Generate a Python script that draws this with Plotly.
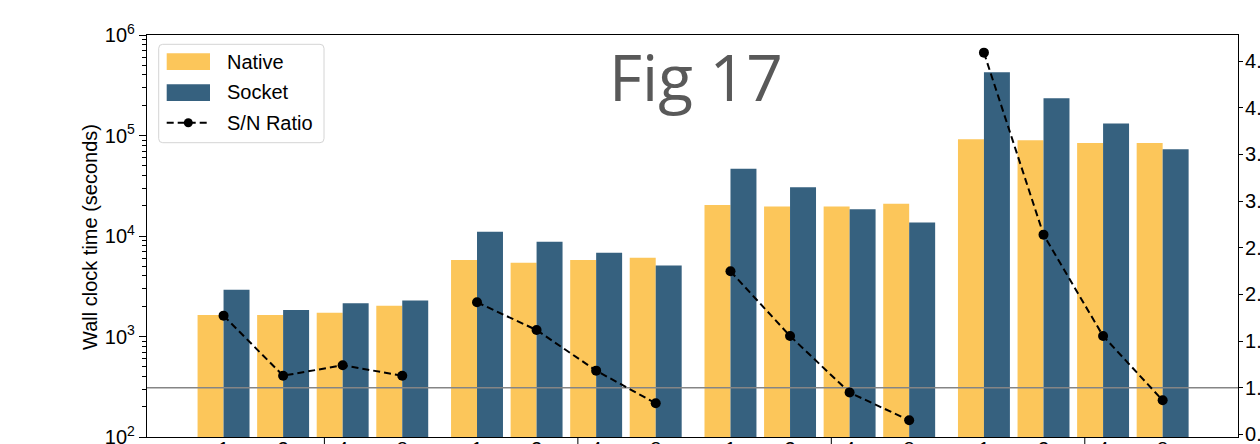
import plotly.graph_objects as go

# ---- data ----
pair_labels = ["1", "2", "4", "8"]
native = [1637, 1637, 1726, 2028,
          5770, 5420, 5770, 6080,
          20400, 19650, 19650, 20900,
          91900, 89800, 84400, 84400]
socket = [2924, 1837, 2137, 2275,
          11020, 8770, 6810, 5090,
          46600, 30600, 18500, 13600,
          425800, 235000, 131300, 73100]
ratio = [1.773, 1.130, 1.241, 1.130,
         1.916, 1.619, 1.184, 0.834,
         2.248, 1.555, 0.949, 0.652,
         4.591, 2.641, 1.555, 0.866]
series_names = ["Native", "Socket", "S/N Ratio"]
y_title = "Wall clock time (seconds)"
fig_label = "Fig 17"

# ---- style / layout ----
YELLOW = "#FCC65A"
BLUE = "#36617F"
FONT = "Liberation Sans"
W, H = 1260, 444
ML, MR, MT, MB = 147, 22, 35, 7
n_groups = 4
n_pairs = len(pair_labels)
group_step = 4.255
bar_w = 0.436
x_range = [-1.285, 17.03]

centers = [g * group_step + k for g in range(n_groups) for k in range(n_pairs)]
xn = [c - bar_w / 2 for c in centers]
xs = [c + bar_w / 2 for c in centers]

# ratio line is drawn per group (no segment between groups)
rx, ry = [], []
for g in range(n_groups):
    rx += centers[g * n_pairs:(g + 1) * n_pairs] + [None]
    ry += ratio[g * n_pairs:(g + 1) * n_pairs] + [None]

pw, ph = W - ML - MR, H - MT - MB


def px(x):
    return (x - ML) / pw


def py(y):
    return (H - MB - y) / ph


fig = go.Figure()
fig.add_trace(go.Bar(x=xn, y=native, width=bar_w, marker=dict(color=YELLOW, line=dict(width=0)),
                     name=series_names[0], showlegend=False))
fig.add_trace(go.Bar(x=xs, y=socket, width=bar_w, marker=dict(color=BLUE, line=dict(width=0)),
                     name=series_names[1], showlegend=False))
fig.add_trace(go.Scatter(x=x_range, y=[1, 1], yaxis="y2", mode="lines",
                         line=dict(color="#858585", width=1.6), showlegend=False, hoverinfo="skip"))
fig.add_trace(go.Scatter(x=rx, y=ry, yaxis="y2", mode="lines+markers", connectgaps=False,
                         line=dict(color="black", width=2, dash="7px,4px"),
                         marker=dict(color="black", size=10), name=series_names[2], showlegend=False))

minor_vals = [m * 10 ** e for e in range(2, 6) for m in range(2, 10)]

shapes = []
# group separator ticks below the x axis
for g in range(n_groups):
    xsep = g * group_step + 1.5 + 0.193
    shapes.append(dict(type="line", xref="x", yref="paper", x0=xsep, x1=xsep, y0=0, y1=-0.04,
                       line=dict(color="black", width=1)))

# manual legend
lx0, lx1, ly0, ly1, r = 158.7, 324, 44.3, 142.7, 4
path = (f"M{px(lx0 + r)},{py(ly0)} L{px(lx1 - r)},{py(ly0)} Q{px(lx1)},{py(ly0)} {px(lx1)},{py(ly0 + r)} "
        f"L{px(lx1)},{py(ly1 - r)} Q{px(lx1)},{py(ly1)} {px(lx1 - r)},{py(ly1)} "
        f"L{px(lx0 + r)},{py(ly1)} Q{px(lx0)},{py(ly1)} {px(lx0)},{py(ly1 - r)} "
        f"L{px(lx0)},{py(ly0 + r)} Q{px(lx0)},{py(ly0)} {px(lx0 + r)},{py(ly0)} Z")
shapes.append(dict(type="path", xref="paper", yref="paper", path=path,
                   fillcolor="rgba(255,255,255,0.85)", line=dict(color="#d4d4d4", width=1)))
shapes.append(dict(type="rect", xref="paper", yref="paper", x0=px(166.7), x1=px(210),
                   y0=py(70), y1=py(53.3), fillcolor=YELLOW, line=dict(width=0)))
shapes.append(dict(type="rect", xref="paper", yref="paper", x0=px(166.7), x1=px(210),
                   y0=py(101), y1=py(84.3), fillcolor=BLUE, line=dict(width=0)))
shapes.append(dict(type="line", xref="paper", yref="paper", x0=px(166.7), x1=px(210),
                   y0=py(122.7), y1=py(122.7), line=dict(color="black", width=2, dash="7px,4px")))
shapes.append(dict(type="circle", xref="paper", yref="paper", x0=px(188.3 - 4.5), x1=px(188.3 + 4.5),
                   y0=py(122.7 + 4.5), y1=py(122.7 - 4.5), fillcolor="black", line=dict(width=0)))

annotations = []
for name, yc in zip(series_names, [61.7, 92.3, 123]):
    annotations.append(dict(text=name, xref="paper", yref="paper", x=px(224.5), y=py(yc),
                            xanchor="left", yanchor="middle", showarrow=False,
                            font=dict(family=FONT, size=20, color="black")))
annotations.append(dict(text=y_title, xref="paper", yref="paper", x=px(90), y=py(237),
                        xanchor="center", yanchor="middle", textangle=-90, showarrow=False,
                        font=dict(family=FONT, size=20, color="black")))
annotations.append(dict(text=fig_label, xref="paper", yref="paper", x=px(696), y=py(77),
                        xanchor="center", yanchor="middle", showarrow=False,
                        font=dict(family="Open Sans", size=64, color="#595959")))

fig.update_layout(
    template="none",
    width=W, height=H,
    margin=dict(l=ML, r=MR, t=MT, b=MB, pad=0, autoexpand=False),
    paper_bgcolor="white", plot_bgcolor="white",
    barmode="overlay", showlegend=False,
    font=dict(family=FONT, size=20, color="black"),
    xaxis=dict(range=x_range, tickmode="array", tickvals=centers, automargin=False,
               ticktext=pair_labels * n_groups, ticks="", showgrid=False, zeroline=False,
               ticklabeloverflow="allow", ticklabelstandoff=-6,
               showline=True, mirror=True, linecolor="black", linewidth=1.2,
               tickfont=dict(family=FONT, size=20, color="black")),
    yaxis=dict(type="log", range=[2, 6], tickmode="array", automargin=False,
               tickvals=[1e2, 1e3, 1e4, 1e5, 1e6],
               ticktext=["10<sup>2</sup>", "10<sup>3</sup>", "10<sup>4</sup>", "10<sup>5</sup>", "10<sup>6</sup>"],
               ticks="outside", ticklen=7, tickwidth=1.2, tickcolor="black",
               ticklabeloverflow="allow",
               minor=dict(tickvals=minor_vals, ticks="outside", ticklen=4, tickwidth=1, tickcolor="black"),
               showgrid=False, zeroline=False, showline=True, linecolor="black", linewidth=1.2,
               tickfont=dict(family=FONT, size=20, color="black")),
    yaxis2=dict(overlaying="y", side="right", range=[0.473, 4.780], tickmode="array", automargin=False,
                tickvals=[0.5, 1.0, 1.5, 2.0, 2.5, 3.0, 3.5, 4.0, 4.5],
                ticktext=["0.5", "1.0", "1.5", "2.0", "2.5", "3.0", "3.5", "4.0", "4.5"],
                ticks="outside", ticklen=4, tickwidth=1.2, tickcolor="black",
                ticklabeloverflow="allow", ticklabelstandoff=-2,
                showgrid=False, zeroline=False, showline=True, linecolor="black", linewidth=1.2,
                tickfont=dict(family=FONT, size=20, color="black")),
    shapes=shapes,
    annotations=annotations,
)

fig.write_html("out.html")
